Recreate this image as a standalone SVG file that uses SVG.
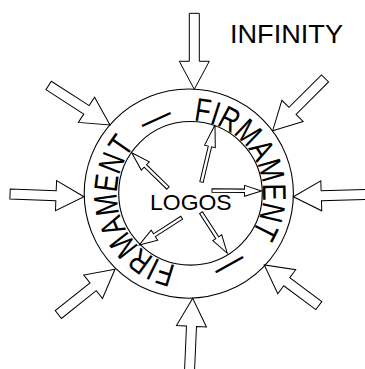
<svg xmlns="http://www.w3.org/2000/svg" width="365" height="369" viewBox="0 0 365 369">
  <style>
    .ring { fill: none; stroke: #000; stroke-width: 1.1; }
    .arr { fill: #fff; stroke: #000; stroke-width: 1; stroke-linejoin: miter; }
    .t { font-family: "Liberation Sans", Arial, sans-serif; fill: #000; }
    .c { font-size: 33px; text-anchor: middle; }
  </style>
  <rect width="365" height="369" fill="#fff"/>

  <g id="firmament-ring">
    <circle class="ring" cx="188.8" cy="193.6" r="104.6"/>
    <circle class="ring" cx="190.5" cy="193.3" r="71.8"/>
  </g>

  <g id="connectors">
    <path class="arr" transform="translate(194.3,89.3) rotate(90)" d="M0,0 L-28,-15 L-28,-5 L-76,-5 L-76,5 L-28,5 L-28,15 Z"/>
    <path class="arr" transform="translate(272.7,130.7) rotate(135)" d="M0,0 L-28,-15 L-28,-5 L-74,-5 L-74,5 L-28,5 L-28,15 Z"/>
    <path class="arr" transform="translate(293.3,196.7) rotate(178.2)" d="M0,0 L-28,-15 L-28,-5 L-76,-5 L-76,5 L-28,5 L-28,15 Z"/>
    <path class="arr" transform="translate(264.3,265) rotate(216.7)" d="M0,0 L-28,-15 L-28,-5 L-68,-5 L-68,5 L-28,5 L-28,15 Z"/>
    <path class="arr" transform="translate(192.7,298.3) rotate(-87.5)" d="M0,0 L-28,-15 L-28,-5 L-76,-5 L-76,5 L-28,5 L-28,15 Z"/>
    <path class="arr" transform="translate(115,269.3) rotate(-38.6)" d="M0,0 L-28,-15 L-28,-5 L-72.5,-5 L-72.5,5 L-28,5 L-28,15 Z"/>
    <path class="arr" transform="translate(84,196.7) rotate(2.1)" d="M0,0 L-28,-15 L-28,-5 L-74,-5 L-74,5 L-28,5 L-28,15 Z"/>
    <path class="arr" transform="translate(110,125) rotate(32.8)" d="M0,0 L-28,-15 L-28,-5 L-73,-5 L-73,5 L-28,5 L-28,15 Z"/>
    <path class="arr" transform="translate(215,125) rotate(-76.7)" d="M0,0 L-22,-5.5 L-22,-1.7 L-58.6,-1.7 L-58.6,1.7 L-22,1.7 L-22,5.5 Z"/>
    <path class="arr" transform="translate(131.7,152.7) rotate(-135.8)" d="M0,0 L-19,-5.8 L-19,-1.7 L-50.6,-1.7 L-50.6,1.7 L-19,1.7 L-19,5.8 Z"/>
    <path class="arr" transform="translate(261.5,191) rotate(0.6)" d="M0,0 L-17,-5.5 L-17,-1.7 L-49.5,-1.7 L-49.5,1.7 L-17,1.7 L-17,5.5 Z"/>
    <path class="arr" transform="translate(227.3,253.3) rotate(57.1)" d="M0,0 L-18.5,-5.3 L-18.5,-1.7 L-48.4,-1.7 L-48.4,1.7 L-18.5,1.7 L-18.5,5.3 Z"/>
    <path class="arr" transform="translate(139.3,245) rotate(147.2)" d="M0,0 L-18,-6 L-18,-1.7 L-50.4,-1.7 L-50.4,1.7 L-18,1.7 L-18,6 Z"/>
  </g>

  <g id="firmament-text" class="t c" transform="translate(190,193.5)">
    <text transform="rotate(8.87) translate(0,-73) scale(0.78,1)">F</text>
    <text transform="rotate(17.85) translate(0,-73) scale(0.78,1)">I</text>
    <text transform="rotate(27.95) translate(0,-73) scale(0.78,1)">R</text>
    <text transform="rotate(43.65) translate(0,-73) scale(0.78,1)">M</text>
    <text transform="rotate(58.79) translate(0,-73) scale(0.78,1)">A</text>
    <text transform="rotate(73.93) translate(0,-73) scale(0.78,1)">M</text>
    <text transform="rotate(89.08) translate(0,-73) scale(0.78,1)">E</text>
    <text transform="rotate(103.11) translate(0,-73) scale(0.78,1)">N</text>
    <text transform="rotate(116.56) translate(0,-73) scale(0.78,1)">T</text>
    <text transform="rotate(151) translate(0,-73) scale(0.95,1)">—</text>
    <text transform="rotate(197.17) translate(0,-73) scale(0.78,1)">F</text>
    <text transform="rotate(206.15) translate(0,-73) scale(0.78,1)">I</text>
    <text transform="rotate(216.25) translate(0,-73) scale(0.78,1)">R</text>
    <text transform="rotate(231.95) translate(0,-73) scale(0.78,1)">M</text>
    <text transform="rotate(247.09) translate(0,-73) scale(0.78,1)">A</text>
    <text transform="rotate(262.23) translate(0,-73) scale(0.78,1)">M</text>
    <text transform="rotate(277.38) translate(0,-73) scale(0.78,1)">E</text>
    <text transform="rotate(291.41) translate(0,-73) scale(0.78,1)">N</text>
    <text transform="rotate(304.86) translate(0,-73) scale(0.78,1)">T</text>
    <text transform="rotate(335.5) translate(0,-73) scale(0.95,1)">—</text>
  </g>

  <g id="logos">
    <text class="t" x="150" y="209.5" font-size="22.5" textLength="81.7" lengthAdjust="spacingAndGlyphs">LOGOS</text>
  </g>

  <g id="infinity">
    <text class="t" x="230" y="43.3" font-size="26" textLength="113" lengthAdjust="spacingAndGlyphs">INFINITY</text>
  </g>
</svg>
